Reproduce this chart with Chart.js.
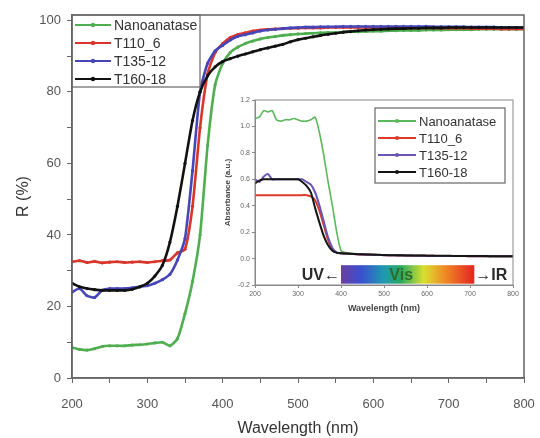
<!DOCTYPE html>
<html>
<head>
<meta charset="utf-8">
<script src="https://cdn.jsdelivr.net/npm/chart.js@4"></script>
<style>
  html, body { margin: 0; padding: 0; background: #fff; }
  #wrap { position: relative; width: 540px; height: 438px; }
  #main { position: absolute; left: 0; top: 0; }
  #inset { position: absolute; left: 222px; top: 92px; }
</style>
</head>
<body>
<div id="wrap">
  <canvas id="main" width="540" height="438"></canvas>
  <canvas id="inset" width="300" height="223"></canvas>
</div>
<script>
// wavelength grid (nm), shared by both panels
const wavelengths = [];
for (let w = 200; w <= 800; w += 10) wavelengths.push(w);

const seriesNames = ["Nanoanatase", "T110_6", "T135-12", "T160-18"];
const seriesColors = ["#4fae4f", "#d9352b", "#4646b8", "#111111"];
const insetColors = ["#5cb85c", "#dd3a2a", "#6a55b5", "#151515"];

const mainYTicks = [0, 10, 20, 30, 40, 50, 60, 70, 80, 90, 100];
const insetYTicks = [-0.2, 0, 0.2, 0.4, 0.6, 0.8, 1.0, 1.2];

// Reflectance R (%)
const reflNano = [8.5, 8, 7.8, 8.2, 8.8, 9, 9, 9, 9.2, 9.3, 9.5, 9.8, 10, 9, 11, 18, 27, 40, 65, 82,
  88, 91, 92.5, 93.5, 94.2, 94.8, 95.2, 95.5, 95.8, 96, 96.2, 96.3, 96.4, 96.5, 96.6, 96.6, 96.7, 96.8, 96.8, 96.9,
  97, 97, 97.1, 97.1, 97.2, 97.2, 97.2, 97.3, 97.3, 97.3, 97.4, 97.4, 97.4, 97.4, 97.5, 97.5, 97.5, 97.5, 97.5, 97.5, 97.5];
const reflT110 = [32.5, 32.8, 32.3, 32.6, 32.2, 32.4, 32.5, 32.3, 32.4, 32.5, 32.3, 32.5, 32.8, 33, 35, 36, 48, 70, 85, 91,
  93.5, 95.2, 96, 96.5, 97, 97.3, 97.5, 97.6, 97.7, 97.8, 97.8, 97.9, 97.9, 97.9, 98, 98, 98, 98, 98, 98,
  98, 98, 98, 98, 98, 97.9, 97.9, 97.9, 97.9, 97.8, 97.8, 97.8, 97.8, 97.7, 97.7, 97.7, 97.7, 97.6, 97.6, 97.6, 97.6];
const reflT135 = [24, 25, 23, 22.5, 24.5, 25, 25, 25, 25.2, 25.5, 25.8, 26.5, 27.5, 29, 33, 39, 58, 80, 88, 91.5,
  93, 94.5, 95.5, 96, 96.5, 97, 97.3, 97.5, 97.7, 97.9, 98, 98.1, 98.1, 98.2, 98.2, 98.2, 98.3, 98.3, 98.3, 98.3,
  98.3, 98.3, 98.3, 98.3, 98.3, 98.3, 98.3, 98.3, 98.2, 98.2, 98.2, 98.2, 98.2, 98.1, 98.1, 98.1, 98.1, 98, 98, 98, 98];
const reflT160 = [26.5, 25.5, 25, 24.7, 24.5, 24.5, 24.5, 24.5, 24.8, 25.5, 26.5, 28.5, 31.5, 38, 48, 60, 72, 80, 84.5, 87,
  88.5, 89.3, 90, 90.6, 91.2, 91.8, 92.3, 92.8, 93.3, 94, 94.6, 95, 95.4, 95.8, 96.1, 96.4, 96.7, 96.9, 97.1, 97.3,
  97.4, 97.5, 97.6, 97.7, 97.7, 97.8, 97.8, 97.9, 97.9, 97.9, 98, 98, 98, 98, 98, 98, 98, 98, 98, 98, 98];

// Absorbance (a.u.) for the inset
const absNano = [1.06, 1.07, 1.12, 1.11, 1.12, 1.05, 1.04, 1.05, 1.05, 1.06, 1.05, 1.04, 1.04, 1.05, 1.07, 0.95, 0.78, 0.58, 0.40, 0.20,
  0.06, 0.045, 0.04, 0.038, 0.036, 0.034, 0.032, 0.03, 0.03, 0.028, 0.027, 0.026, 0.025, 0.025, 0.024, 0.024, 0.023, 0.023, 0.022, 0.022,
  0.021, 0.021, 0.02, 0.02, 0.02, 0.02, 0.019, 0.019, 0.019, 0.018, 0.018, 0.018, 0.018, 0.017, 0.017, 0.017, 0.017, 0.016, 0.016, 0.016, 0.016];
const absT110 = [0.48, 0.48, 0.48, 0.48, 0.48, 0.48, 0.48, 0.48, 0.48, 0.48, 0.48, 0.48, 0.48, 0.47, 0.44, 0.36, 0.25, 0.14, 0.07, 0.045,
  0.04, 0.038, 0.036, 0.034, 0.032, 0.031, 0.03, 0.029, 0.028, 0.027, 0.026, 0.025, 0.025, 0.024, 0.024, 0.023, 0.023, 0.022, 0.022, 0.022,
  0.021, 0.021, 0.02, 0.02, 0.02, 0.02, 0.019, 0.019, 0.019, 0.019, 0.018, 0.018, 0.018, 0.018, 0.018, 0.017, 0.017, 0.017, 0.017, 0.017, 0.017];
const absT135 = [0.6, 0.58, 0.62, 0.64, 0.6, 0.6, 0.6, 0.6, 0.6, 0.6, 0.6, 0.6, 0.58, 0.56, 0.5, 0.4, 0.28, 0.16, 0.08, 0.045,
  0.04, 0.038, 0.036, 0.034, 0.032, 0.031, 0.03, 0.029, 0.028, 0.027, 0.026, 0.025, 0.025, 0.024, 0.024, 0.023, 0.023, 0.022, 0.022, 0.022,
  0.021, 0.021, 0.02, 0.02, 0.02, 0.02, 0.019, 0.019, 0.019, 0.019, 0.018, 0.018, 0.018, 0.018, 0.018, 0.017, 0.017, 0.017, 0.017, 0.017, 0.017];
const absT160 = [0.57, 0.59, 0.6, 0.6, 0.6, 0.6, 0.6, 0.6, 0.6, 0.6, 0.6, 0.58, 0.55, 0.5, 0.38, 0.27, 0.17, 0.1, 0.06, 0.045,
  0.04, 0.039, 0.037, 0.035, 0.033, 0.032, 0.031, 0.03, 0.029, 0.028, 0.027, 0.026, 0.026, 0.025, 0.025, 0.024, 0.024, 0.023, 0.023, 0.023,
  0.022, 0.022, 0.021, 0.021, 0.021, 0.021, 0.02, 0.02, 0.02, 0.02, 0.019, 0.019, 0.019, 0.019, 0.019, 0.018, 0.018, 0.018, 0.018, 0.018, 0.018];

// spectrum bar in the inset
const visRange = [400, 710];
const visBand = [-0.05, -0.19];

const FONT = '"Liberation Sans", Arial, sans-serif';

let toPoints = (vals) => wavelengths.map((w, i) => ({ x: w, y: vals[i] }));

// keep the plot box fixed: no extra room for overhanging end labels
let fixX = (h) => (s) => { s.height = h; s.paddingLeft = 0; s.paddingRight = 0; };
let fixY = (w) => (s) => { s.width = w; s.paddingTop = 0; s.paddingBottom = 0; };

// box around the plot area
const frame = {
  id: "frame",
  afterDraw(chart, args, opts) {
    const a = chart.chartArea, c = chart.ctx;
    c.save();
    c.strokeStyle = opts.color || "#666";
    c.lineWidth = opts.width || 1.5;
    c.strokeRect(a.left, a.top, a.right - a.left, a.bottom - a.top);
    c.restore();
  },
};

// legend drawn inside the plot area
const boxLegend = {
  id: "boxLegend",
  afterDatasetsDraw(chart, args, opts) {
    const c = chart.ctx;
    c.save();
    c.fillStyle = "#fff";
    c.fillRect(opts.x, opts.y, opts.w, opts.h);
    c.strokeStyle = "#666";
    c.lineWidth = 1.2;
    c.strokeRect(opts.x, opts.y, opts.w, opts.h);
    c.font = opts.font;
    c.textBaseline = "middle";
    chart.data.datasets.forEach((ds, i) => {
      const y = opts.y + opts.first + i * opts.step;
      const x0 = opts.x + 3, x1 = x0 + opts.line;
      c.strokeStyle = ds.borderColor;
      c.lineWidth = opts.lw;
      c.beginPath();
      c.moveTo(x0, y);
      c.lineTo(x1, y);
      c.stroke();
      c.fillStyle = ds.borderColor;
      c.beginPath();
      c.arc((x0 + x1) / 2, y, opts.dot, 0, Math.PI * 2);
      c.fill();
      c.fillStyle = "#333";
      c.fillText(ds.label, x1 + 3, y + 1);
    });
    c.restore();
  },
};

// UV / Vis / IR bar for the inset
const spectrumBar = {
  id: "spectrumBar",
  afterDatasetsDraw(chart) {
    const c = chart.ctx, xs = chart.scales.x, ys = chart.scales.y;
    const x0 = xs.getPixelForValue(visRange[0]), x1 = xs.getPixelForValue(visRange[1]);
    const y0 = ys.getPixelForValue(visBand[0]), y1 = ys.getPixelForValue(visBand[1]);
    const g = c.createLinearGradient(x0, 0, x1, 0);
    g.addColorStop(0, "#6a3fa0");
    g.addColorStop(0.15, "#3b4fd0");
    g.addColorStop(0.32, "#1f9ab0");
    g.addColorStop(0.45, "#2aa860");
    g.addColorStop(0.62, "#d8e030");
    g.addColorStop(0.78, "#f08a25");
    g.addColorStop(1, "#e52222");
    c.save();
    c.fillStyle = g;
    c.fillRect(x0, y0, x1 - x0, y1 - y0);
    const ym = (y0 + y1) / 2 + 1;
    c.font = "bold 16px " + FONT;
    c.textBaseline = "middle";
    c.fillStyle = "#2a2a2a";
    c.textAlign = "right";
    c.fillText("UV\u2190", x0 - 1, ym);
    c.textAlign = "left";
    c.fillText("\u2192IR", x1 + 1, ym);
    c.textAlign = "center";
    c.fillStyle = "#2d6b2d";
    c.fillText("Vis", xs.getPixelForValue(540), ym);
    c.restore();
  },
};

// Main reflectance chart
const ctx1 = document.getElementById("main");
const mainChart = new Chart(ctx1, {
  type: "line",
  data: {
    datasets: [reflNano, reflT110, reflT135, reflT160].map((vals, i) => ({
      label: seriesNames[i],
      data: toPoints(vals),
      borderColor: seriesColors[i],
      backgroundColor: seriesColors[i],
      borderWidth: 2.6,
      pointRadius: 1.6,
      pointBorderWidth: 0,
      fill: false,
      tension: 0.2,
      order: 3 - i,
    })),
  },
  options: {
    responsive: false,
    animation: false,
    layout: { padding: { top: 15, right: 16, left: 14, bottom: 0 } },
    scales: {
      x: {
        type: "linear",
        min: 200,
        max: 800,
        afterFit: fixX(60),
        grid: { drawOnChartArea: false, tickLength: 5, color: "#666" },
        border: { color: "#666", width: 1.5 },
        ticks: {
          stepSize: 50,
          padding: 14,
          color: "#555",
          font: { size: 13, family: FONT },
          callback: (v) => (v % 100 === 0 ? v : ""),
        },
        title: { display: true, text: "Wavelength (nm)", color: "#333", padding: 0, font: { size: 16, family: FONT } },
      },
      y: {
        min: 0,
        max: 101.5,
        afterFit: fixY(58),
        afterBuildTicks: (s) => { s.ticks = mainYTicks.map((v) => ({ value: v })); },
        grid: { drawOnChartArea: false, tickLength: 5, color: "#666" },
        border: { color: "#666", width: 1.5 },
        ticks: {
          padding: 6,
          color: "#555",
          font: { size: 13, family: FONT },
          callback: (v) => (v % 20 === 0 ? v : ""),
        },
        title: { display: true, text: "R (%)", color: "#333", padding: 0, font: { size: 16, family: FONT } },
      },
    },
    plugins: {
      legend: { display: false },
      tooltip: { enabled: false },
      frame: { color: "#666", width: 1.5 },
      boxLegend: { x: 72, y: 15, w: 128, h: 72, first: 10, step: 18, line: 36, lw: 2.2, dot: 2.2, font: "14px " + FONT },
    },
  },
  plugins: [frame, boxLegend],
});

// Inset absorbance chart
const ctx2 = document.getElementById("inset");
const insetChart = new Chart(ctx2, {
  type: "line",
  data: {
    datasets: [absNano, absT110, absT135, absT160].map((vals, i) => ({
      label: seriesNames[i],
      data: toPoints(vals),
      borderColor: insetColors[i],
      backgroundColor: insetColors[i],
      borderWidth: i === 0 ? 1.6 : 2,
      pointRadius: 0,
      fill: false,
      tension: 0.2,
      order: 3 - i,
    })),
  },
  options: {
    responsive: false,
    animation: false,
    layout: { padding: { top: 8, right: 9, left: 0, bottom: 0 } },
    scales: {
      x: {
        type: "linear",
        min: 200,
        max: 800,
        afterFit: fixX(30),
        grid: { drawOnChartArea: false, tickLength: 3, color: "#888" },
        border: { color: "#888", width: 1 },
        ticks: { stepSize: 100, padding: 2, color: "#666", font: { size: 7, family: FONT } },
        title: { display: true, text: "Wavelength (nm)", color: "#444", padding: 1, font: { size: 9, weight: "bold", family: FONT } },
      },
      y: {
        min: -0.2,
        max: 1.2,
        afterFit: fixY(33),
        afterBuildTicks: (s) => { s.ticks = insetYTicks.map((v) => ({ value: v })); },
        grid: { drawOnChartArea: false, tickLength: 3, color: "#888" },
        border: { color: "#888", width: 1 },
        ticks: {
          padding: 2,
          color: "#666",
          font: { size: 7, family: FONT },
          callback: (v) => (Math.abs(v) < 1e-9 ? "0.0" : v.toFixed(1)),
        },
        title: { display: true, text: "Absorbance (a.u.)", color: "#444", padding: 1, font: { size: 8, weight: "bold", family: FONT } },
      },
    },
    plugins: {
      legend: { display: false },
      tooltip: { enabled: false },
      frame: { color: "#888", width: 1 },
      boxLegend: { x: 153, y: 16, w: 130, h: 75, first: 13, step: 17, line: 38, lw: 1.8, dot: 2, font: "13px " + FONT },
    },
  },
  plugins: [frame, spectrumBar, boxLegend],
});
</script>
</body>
</html>
